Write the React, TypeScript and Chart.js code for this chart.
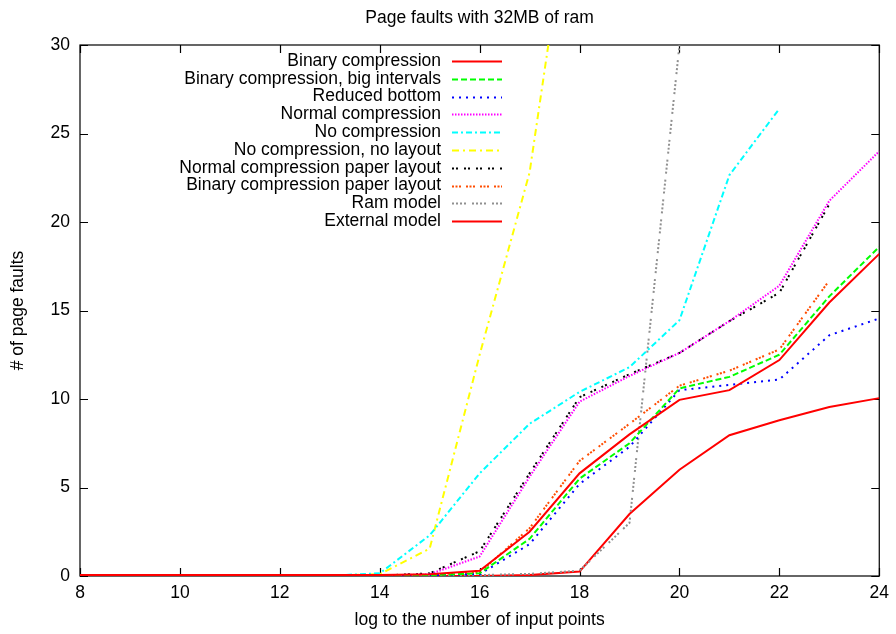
import React, { useEffect, useRef } from "react";
import { Chart, registerables } from "chart.js";

Chart.register(...registerables);

// ---- data (x = log2 of number of input points) ----
const xValues = [8, 9, 10, 11, 12, 13, 14, 15, 16, 17, 18, 19, 20, 21, 22, 23, 24];

const binaryCompression = [0.05, 0.05, 0.05, 0.05, 0.05, 0.05, 0.05, 0.1, 0.3, 2.5, 5.8, 8.0, 9.95, 10.5, 12.2, 15.45, 18.2];
const binaryBigIntervals = [0.03, 0.03, 0.03, 0.03, 0.03, 0.03, 0.03, 0.05, 0.15, 2.1, 5.5, 7.5, 10.6, 11.25, 12.5, 15.8, 18.6];
const reducedBottom = [0.03, 0.03, 0.03, 0.03, 0.03, 0.03, 0.03, 0.05, 0.1, 1.8, 5.2, 7.3, 10.5, 10.8, 11.1, 13.6, 14.55];
const normalCompression = [0.02, 0.02, 0.02, 0.02, 0.02, 0.02, 0.02, 0.1, 1.1, 5.6, 9.85, 11.3, 12.6, 14.4, 16.4, 21.2, 24.0];
const noCompression = [0.02, 0.02, 0.02, 0.02, 0.02, 0.02, 0.15, 2.3, 5.8, 8.6, 10.4, 11.8, 14.45, 22.65, 26.4];
const noCompressionNoLayout = [0.02, 0.02, 0.02, 0.02, 0.02, 0.02, 0.1, 1.55, 12.5, 22.8, 42.0];
const normalPaperLayout = [0.02, 0.02, 0.02, 0.02, 0.02, 0.02, 0.02, 0.15, 1.4, 5.8, 10.1, 11.4, 12.6, 14.4, 16.0, 21.0];
const binaryPaperLayout = [0.03, 0.03, 0.03, 0.03, 0.03, 0.03, 0.03, 0.08, 0.2, 2.7, 6.5, 8.6, 10.75, 11.6, 12.8, 16.7];
const ramModel = [0.02, 0.02, 0.02, 0.02, 0.02, 0.02, 0.02, 0.02, 0.05, 0.12, 0.3, 3.0, 30.0];
const externalModel = [0.0, 0.0, 0.0, 0.0, 0.0, 0.0, 0.0, 0.0, 0.0, 0.05, 0.25, 3.5, 6.0, 7.95, 8.8, 9.55, 10.05];

const seriesNames = [
  "Binary compression",
  "Binary compression, big intervals",
  "Reduced bottom",
  "Normal compression",
  "No compression",
  "No compression, no layout",
  "Normal compression paper layout",
  "Binary compression paper layout",
  "Ram model",
  "External model",
];
const seriesValues = [
  binaryCompression,
  binaryBigIntervals,
  reducedBottom,
  normalCompression,
  noCompression,
  noCompressionNoLayout,
  normalPaperLayout,
  binaryPaperLayout,
  ramModel,
  externalModel,
];
const seriesColors = [
  "#ff0000",
  "#00ff00",
  "#0000ff",
  "#ff00ff",
  "#00ffff",
  "#ffff00",
  "#000000",
  "#ff4d00",
  "#909090",
  "#ff0000",
];
const seriesDashes: number[][] = [
  [],
  [6, 3],
  [2, 5],
  [1.5, 1.5],
  [6, 3, 2, 3],
  [7, 4, 2, 4],
  [2, 2, 2, 6],
  [2, 1.5, 2, 1.5, 2, 5],
  [2, 2, 2, 2, 2, 2, 2, 6],
  [],
];

const xTickStep = 2;
const yTickStep = 5;
const titleText = "Page faults with 32MB of ram";
const xTitle = "log to the number of input points";
const yTitle = "# of page faults";

const FONT = "'Liberation Sans', Arial, Helvetica, sans-serif";
const FSIZE = 17.5;

const framePlugin = {
  id: "gnuplotFrame",
  beforeDatasetsDraw(chart: any) {
    const { ctx, chartArea } = chart;
    const { left, right, top, bottom } = chartArea;
    ctx.save();
    ctx.strokeStyle = "#000";
    ctx.lineWidth = 1.2;
    ctx.setLineDash([]);
    ctx.strokeRect(left, top, right - left, bottom - top);
    const tl = 8;
    const xs = chart.scales.x;
    const ys = chart.scales.y;
    ctx.beginPath();
    xs.ticks.forEach((t: any) => {
      const px = Math.round(xs.getPixelForValue(t.value)) + 0.5;
      ctx.moveTo(px, bottom);
      ctx.lineTo(px, bottom - tl);
      ctx.moveTo(px, top);
      ctx.lineTo(px, top + tl);
    });
    ys.ticks.forEach((t: any) => {
      const py = Math.round(ys.getPixelForValue(t.value)) + 0.5;
      ctx.moveTo(left, py);
      ctx.lineTo(left + tl, py);
      ctx.moveTo(right, py);
      ctx.lineTo(right - tl, py);
    });
    ctx.stroke();
    ctx.restore();
  },
  afterDatasetsDraw(chart: any) {
    const { ctx, chartArea } = chart;
    const textRight = chartArea.left + 361;
    const lineStart = chartArea.left + 372;
    const lineEnd = chartArea.left + 422;
    const firstY = chartArea.top + 16;
    const step = 17.8;
    ctx.save();
    ctx.font = `${FSIZE}px ${FONT}`;
    ctx.textAlign = "right";
    ctx.textBaseline = "middle";
    chart.data.datasets.forEach((ds: any, i: number) => {
      const y = firstY + i * step;
      ctx.fillStyle = "#000";
      ctx.fillText(ds.label, textRight, y);
      ctx.beginPath();
      ctx.strokeStyle = ds.borderColor;
      ctx.lineWidth = ds.borderWidth;
      ctx.lineCap = "butt";
      ctx.setLineDash(ds.borderDash || []);
      ctx.moveTo(lineStart, Math.round(y) + 0.5);
      ctx.lineTo(lineEnd, Math.round(y) + 0.5);
      ctx.stroke();
    });
    ctx.restore();
  },
};

export default function App() {
  const canvasRef = useRef<HTMLCanvasElement | null>(null);

  useEffect(() => {
    document.body.style.margin = "0";
    const canvas = canvasRef.current;
    if (!canvas) return;
    const datasets = seriesNames.map((name, i) => ({
      label: name,
      data: seriesValues[i].map((v, j) => ({ x: xValues[j], y: v })),
      borderColor: seriesColors[i],
      backgroundColor: seriesColors[i],
      borderWidth: 2,
      borderDash: seriesDashes[i],
      borderCapStyle: "butt",
      pointRadius: 0,
      tension: 0,
      fill: false,
    }));
    const font = { family: FONT, size: FSIZE, weight: "normal" as const };
    const chart = new Chart(canvas, {
      type: "line",
      data: { datasets: datasets as any },
      options: {
        responsive: false,
        animation: false,
        devicePixelRatio: 1,
        layout: { padding: { left: 0, right: 16, top: 0, bottom: 0 } },
        plugins: {
          legend: { display: false },
          tooltip: { enabled: false },
          title: {
            display: true,
            text: titleText,
            color: "#000",
            font,
            fullSize: false,
            padding: { top: 8, bottom: 16 },
          },
        },
        scales: {
          x: {
            type: "linear",
            min: 8,
            max: 24,
            ticks: { stepSize: xTickStep, color: "#000", font, padding: 7 },
            grid: { display: false, drawTicks: false },
            border: { display: false },
            title: { display: true, text: xTitle, color: "#000", font, padding: { top: 0, bottom: 3 } },
            afterFit: (s: any) => {
              s.height = 58;
            },
          },
          y: {
            type: "linear",
            min: 0,
            max: 30,
            ticks: { stepSize: yTickStep, color: "#000", font, padding: 10 },
            grid: { display: false, drawTicks: false },
            border: { display: false },
            title: { display: true, text: yTitle, color: "#000", font, padding: { top: 8, bottom: 0 } },
            afterFit: (s: any) => {
              s.width = 80;
            },
          },
        },
      } as any,
      plugins: [framePlugin],
    });
    return () => chart.destroy();
  }, []);

  return (
    <div style={{ width: 896, height: 634, overflow: "hidden" }}>
      <canvas ref={canvasRef} width={896} height={634} style={{ display: "block" }} />
    </div>
  );
}
